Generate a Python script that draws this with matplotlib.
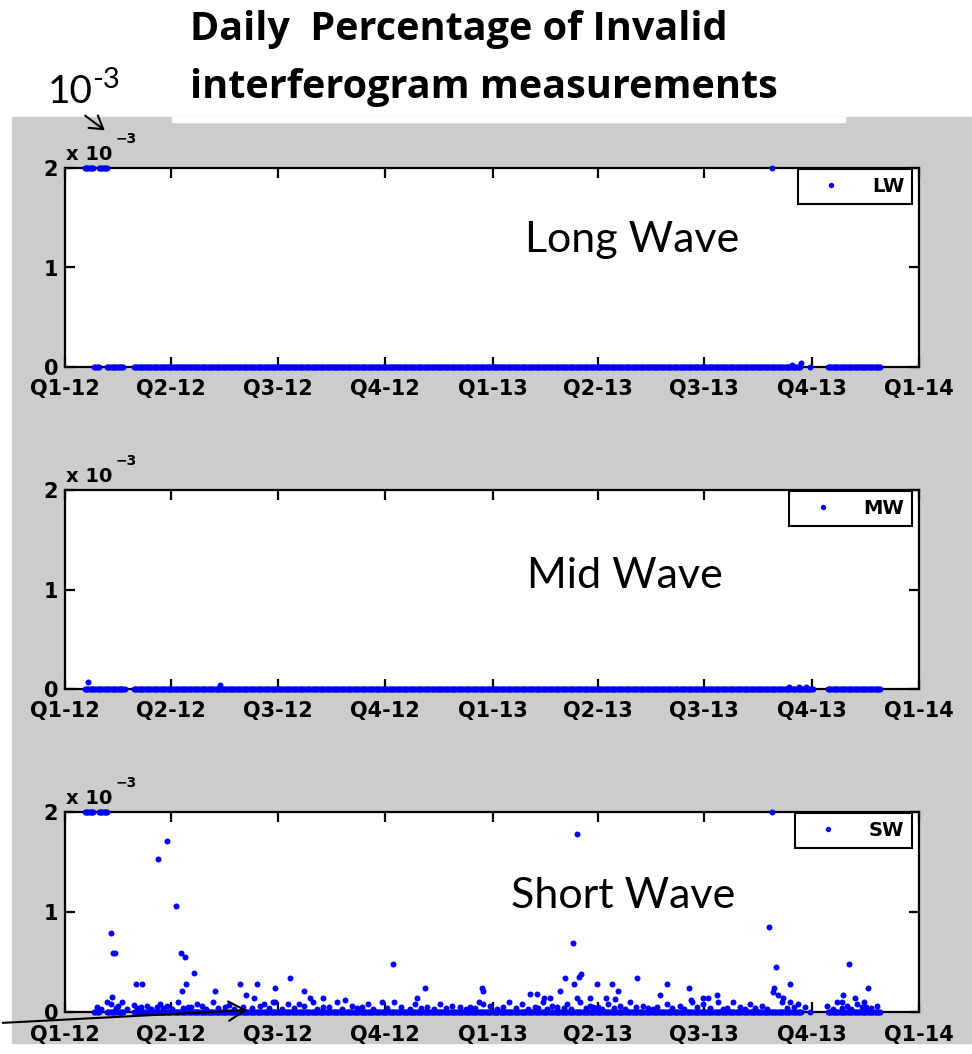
'''
    Daily percentage of invalid interferogram measurements (LW / MW / SW).
'''

import numpy as np
import pandas as pd
import matplotlib
matplotlib.use("Agg")
import matplotlib.pyplot as plt
from matplotlib.patches import Rectangle

W, H = 972, 1054
START = np.datetime64("2012-01-01")

quarter_labels = ["Q1-12", "Q2-12", "Q3-12", "Q4-12", "Q1-13",
                  "Q2-13", "Q3-13", "Q4-13", "Q1-14"]
y_ticks = [0, 1, 2]

# values are in units of 1e-3, days are offsets from 2012-01-01
# day ranges where the daily value is 0 (the flat band)
lw_zero_ranges = [(25, 29), (36, 50), (59, 629), (638, 638), (653, 698)]
mw_zero_ranges = [(17, 51), (59, 640), (653, 698)]
sw_zero_ranges = [(25, 29), (36, 50), (59, 630), (638, 638), (653, 698)]

# days sitting on the 2e-3 ceiling early in 2012 (LW and SW)
ceiling_ranges = [(17, 24), (29, 36)]

lw_days = [605, 630, 622]
lw_vals = [2.0, 0.04, 0.02]

mw_days = [20, 133, 620, 628, 634]
mw_vals = [0.07, 0.04, 0.02, 0.02, 0.02]

sw_days = [87, 80, 95, 39, 41, 43, 99, 103, 110, 104, 100, 61, 66, 40, 36,
           150, 164, 128, 155, 162, 180, 193, 205, 210, 221, 281, 308, 301,
           357, 358, 438, 435, 442, 440, 428, 436, 424, 490, 455, 468, 473,
           515, 534, 509, 398, 404, 410, 415, 438, 449, 463, 471, 605, 603,
           609, 671, 621, 687, 607, 606, 610, 615, 666, 676, 665, 684, 558,
           550, 546]
sw_vals = [1.71, 1.53, 1.06, 0.79, 0.59, 0.59, 0.59, 0.55, 0.39, 0.28, 0.21,
           0.28, 0.28, 0.15, 0.10, 0.28, 0.28, 0.21, 0.17, 0.14, 0.24, 0.34,
           0.21, 0.14, 0.14, 0.48, 0.24, 0.14, 0.24, 0.21, 1.78, 0.69, 0.38,
           0.35, 0.34, 0.28, 0.21, 0.34, 0.28, 0.28, 0.21, 0.28, 0.24, 0.17,
           0.18, 0.18, 0.14, 0.14, 0.14, 0.14, 0.14, 0.13, 2.0, 0.85, 0.45,
           0.48, 0.28, 0.24, 0.24, 0.20, 0.17, 0.14, 0.17, 0.14, 0.10, 0.10,
           0.17, 0.14, 0.14]

# the small bumps just above the SW band
sw_low_days = [27, 39, 45, 49, 59, 62, 70, 79, 81, 87, 97, 105, 113, 117, 127,
               137, 140, 160, 167, 170, 178, 180, 191, 200, 205, 212, 221, 233,
               240, 246, 254, 259, 271, 282, 300, 310, 321, 331, 347, 354, 358,
               364, 380, 391, 402, 409, 417, 430, 441, 449, 456, 465, 475, 484,
               495, 507, 515, 526, 536, 537, 546, 559, 572, 586, 597, 614, 621,
               627, 633, 652, 661, 669, 678, 686, 695,
               31, 44, 53, 65, 74, 84, 92, 101, 108, 121, 131, 145, 152, 175,
               186, 196, 216, 226, 237, 250, 264, 276, 288, 295, 305, 316, 326,
               338, 343, 351, 370, 375, 386, 396, 405, 413, 421, 427, 433, 446,
               452, 460, 470, 479, 489, 499, 503, 520, 530, 541, 552, 563, 567,
               578, 582, 591, 601, 618, 624, 657, 665, 673, 682, 690]
sw_low_vals = [0.05, 0.08, 0.06, 0.10, 0.07, 0.04, 0.06, 0.05, 0.08, 0.06,
               0.10, 0.05, 0.08, 0.06, 0.10, 0.05, 0.07, 0.04, 0.06, 0.08,
               0.10, 0.10, 0.08, 0.08, 0.06, 0.10, 0.05, 0.10, 0.12, 0.06,
               0.05, 0.08, 0.10, 0.10, 0.08, 0.05, 0.08, 0.06, 0.05, 0.10,
               0.08, 0.06, 0.10, 0.08, 0.05, 0.10, 0.06, 0.08, 0.10, 0.06,
               0.05, 0.08, 0.06, 0.10, 0.06, 0.05, 0.08, 0.06, 0.12, 0.10,
               0.08, 0.10, 0.10, 0.08, 0.06, 0.10, 0.10, 0.08, 0.05, 0.06,
               0.10, 0.06, 0.08, 0.05, 0.06,
               0.03, 0.04, 0.03, 0.05, 0.03, 0.04, 0.03, 0.04, 0.05, 0.03,
               0.04, 0.03, 0.05, 0.04, 0.03, 0.04, 0.03, 0.05, 0.03, 0.04,
               0.03, 0.04, 0.05, 0.03, 0.04, 0.03, 0.04, 0.05, 0.03, 0.04,
               0.03, 0.05, 0.04, 0.03, 0.04, 0.03, 0.05, 0.04, 0.03, 0.04,
               0.05, 0.03, 0.04, 0.03, 0.05, 0.04, 0.03, 0.04, 0.03, 0.05,
               0.04, 0.03, 0.04, 0.05, 0.03, 0.04, 0.03, 0.04, 0.05, 0.03,
               0.04, 0.03, 0.05, 0.04]

BLUE = "#0000ff"
GRAY = "#cccccc"
TICK_FONT = "DejaVu Sans"
SLIDE_FONT = "Lato"
TITLE_FONT = "Open Sans"


def fx(x):
    return x / W


def fy(y):
    return 1 - y / H


def expand(ranges, value):
    days = np.concatenate([np.arange(a, b + 1) for a, b in ranges])
    return list(days), [value] * len(days)


def to_dates(days):
    return START + np.array(days).astype("timedelta64[D]")


def build(zero_ranges, days, vals, low_days=(), low_vals=(), ceiling=False):
    d, v = expand(zero_ranges, 0.0)
    if ceiling:
        cd, cv = expand(ceiling_ranges, 2.0)
        d += cd
        v += cv
    d += list(low_days) + list(days)
    v += list(low_vals) + list(vals)
    return to_dates(d), np.array(v)


fig = plt.figure(figsize=(W / 100, H / 100), dpi=100, facecolor="white")

# slide-like gray panel and the white title strip on top of it
fig.patches.append(Rectangle((fx(12), fy(1043)), fx(W - 12), (1043 - 117) / H,
                             transform=fig.transFigure, color=GRAY, zorder=-10))
fig.patches.append(Rectangle((fx(172), fy(122)), fx(845 - 172), 5 / H,
                             transform=fig.transFigure, color="white", zorder=-9))

panels = [
    (168, 367, "LW", "Long Wave", 252, 632,
     build(lw_zero_ranges, lw_days, lw_vals, ceiling=True)),
    (490, 689, "MW", "Mid Wave", 588, 625,
     build(mw_zero_ranges, mw_days, mw_vals)),
    (812, 1012, "SW", "Short Wave", 908, 623,
     build(sw_zero_ranges, sw_days, sw_vals, sw_low_days, sw_low_vals, ceiling=True)),
]

quarters = pd.date_range("2012-01-01", "2014-01-01", freq="QS")

for top, bottom, label, name, name_y, name_x, (x, y) in panels:
    ax = fig.add_axes([fx(65), fy(bottom), fx(854), (bottom - top) / H])
    ax.set_facecolor("white")
    ax.plot(x, y, ls="none", marker="o", ms=4.3, mew=0, color=BLUE,
            clip_on=False, zorder=3, label=label)
    ax.set_xlim(quarters[0], quarters[-1])
    ax.set_ylim(0, 2)
    ax.set_xticks(quarters)
    ax.set_xticklabels(quarter_labels)
    ax.set_yticks(y_ticks)
    ax.set_yticklabels([str(t) for t in y_ticks])
    ax.tick_params(direction="in", length=7, width=1.6, top=True, right=True,
                   labelsize=15, pad=9)
    ax.tick_params(axis="y", pad=5)
    for lbl in ax.get_xticklabels() + ax.get_yticklabels():
        lbl.set_fontweight("bold")
        lbl.set_family(TICK_FONT)
    for sp in ax.spines.values():
        sp.set_linewidth(1.6)

    leg = ax.legend(loc="upper right", bbox_to_anchor=(0.9918, 0.995),
                    borderaxespad=0, fancybox=False, framealpha=1,
                    edgecolor="black", numpoints=1, handlelength=2.6,
                    handletextpad=0.8, borderpad=0.4, markerscale=0.9,
                    prop={"family": TICK_FONT, "weight": "bold", "size": 14})
    leg.get_frame().set_linewidth(1.5)

    # MATLAB style exponent above the y axis
    fig.text(fx(66), fy(top - 8), "x 10", family=TICK_FONT, weight="bold",
             size=14, va="baseline")
    fig.text(fx(116), fy(top - 25), "\u22123", family=TICK_FONT, weight="bold",
             size=10, va="baseline")

    fig.text(fx(name_x), fy(name_y), name, family=SLIDE_FONT, size=31,
             ha="center", va="baseline")

fig.text(fx(190), fy(40), "Daily  Percentage of Invalid", family=TITLE_FONT,
         weight="bold", size=28.5, va="baseline")
fig.text(fx(190), fy(98), "interferogram measurements", family=TITLE_FONT,
         weight="bold", size=28.5, va="baseline")

fig.text(fx(48), fy(103), "10", family=SLIDE_FONT, size=28, va="baseline")
fig.text(fx(92), fy(88), "-3", family=SLIDE_FONT, size=21, va="baseline")

plt.annotate("", xy=(107, H - 132), xytext=(83, H - 114),
             xycoords="figure pixels", textcoords="figure pixels",
             arrowprops=dict(arrowstyle="->, head_length=0.45, head_width=0.28",
                             mutation_scale=20, lw=1.5, color="black"))
plt.annotate("", xy=(250, H - 1010), xytext=(0, H - 1023),
             xycoords="figure pixels", textcoords="figure pixels",
             arrowprops=dict(arrowstyle="->, head_length=0.6, head_width=0.35",
                             mutation_scale=20, lw=1.5, color="black"))

plt.savefig("out.png", dpi=100, facecolor="white")
